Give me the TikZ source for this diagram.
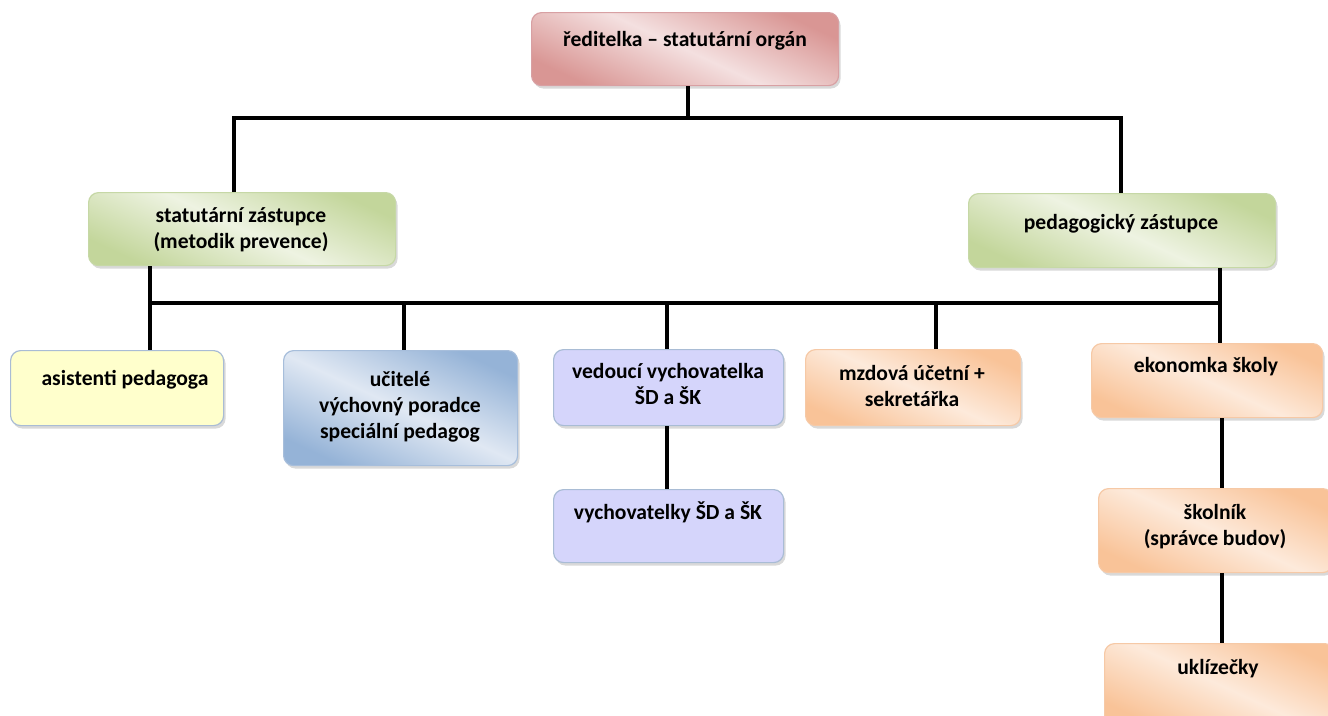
\documentclass[tikz,border=0pt]{standalone}
\usepackage{fontspec}
\setmainfont{Carlito}
\usetikzlibrary{shadows}

\definecolor{reddark}{HTML}{D99694}
\definecolor{redlight}{HTML}{F4E0E0}
\definecolor{redline}{HTML}{D8A0A3}
\definecolor{greendark}{HTML}{C3D69B}
\definecolor{greenlight}{HTML}{EEF3E2}
\definecolor{greenline}{HTML}{C6D8A6}
\definecolor{bluedark}{HTML}{95B3D7}
\definecolor{bluelight}{HTML}{E0E8F3}
\definecolor{blueline}{HTML}{A7BEDB}
\definecolor{orangedark}{HTML}{F9C398}
\definecolor{orangelight}{HTML}{FDEADB}
\definecolor{orangeline}{HTML}{F6C9A6}
\definecolor{yellowfill}{HTML}{FFFFCC}
\definecolor{lavfill}{HTML}{D5D5FB}
\definecolor{greyline}{HTML}{A9BCD5}

\tikzset{
  box/.style={rounded corners=10pt, line width=1.2pt, anchor=north west, inner sep=0pt,
    drop shadow={shadow xshift=2pt, shadow yshift=-3pt, opacity=0.3}},
  redbox/.style={box, draw=redline, top color=reddark, bottom color=reddark, middle color=redlight, shading angle=-25},
  greenbox/.style={box, draw=greenline, top color=greendark, bottom color=greendark, middle color=greenlight, shading angle=-25},
  bluebox/.style={box, draw=blueline, top color=bluedark, bottom color=bluedark, middle color=bluelight, shading angle=-25},
  orangebox/.style={box, draw=orangeline, top color=orangedark, bottom color=orangedark, middle color=orangelight, shading angle=-25},
  yellowbox/.style={box, draw=greyline, fill=yellowfill},
  lavbox/.style={box, draw=greyline, fill=lavfill},
  txt/.style={font=\bfseries\fontsize{21.6}{26}\selectfont, align=center, inner sep=0pt},
  conn/.style={line width=4pt}
}

\begin{document}
\begin{tikzpicture}[x=1pt,y=-1pt]
  \useasboundingbox (0,0) rectangle (1328,715);

  % boxes
  \node[redbox, minimum width=307pt, minimum height=73pt] (red) at (531,12) {};
  \node[greenbox, minimum width=307pt, minimum height=73pt] (stat) at (88,192) {};
  \node[greenbox, minimum width=307pt, minimum height=74pt] (ped) at (968,193) {};
  \node[yellowbox, minimum width=213pt, minimum height=75pt] (asist) at (10,350) {};
  \node[bluebox, minimum width=234pt, minimum height=115pt] (ucit) at (283,350) {};
  \node[lavbox, minimum width=230pt, minimum height=76pt] (ved) at (553,349) {};
  \node[lavbox, minimum width=230pt, minimum height=73pt] (vych) at (553,489) {};
  \node[orangebox, minimum width=215pt, minimum height=76pt] (mzd) at (805,349) {};
  \node[orangebox, minimum width=231pt, minimum height=74pt] (ekon) at (1091,343) {};
  \node[orangebox, minimum width=234pt, minimum height=84pt] (skol) at (1098,488) {};
  \node[orangebox, minimum width=230pt, minimum height=82pt] (ukl) at (1104,643) {};

  % texts
  \node[txt] (red-t) at (685,41) {ředitelka – statutární orgán};
  \node[txt] (stat-t) at (241,230) {statutární zástupce\\(metodik prevence)};
  \node[txt] (ped-t) at (1121,224) {pedagogický zástupce};
  \node[txt] (asist-t) at (125,380) {asistenti pedagoga};
  \node[txt] (ucit-t) at (400,407) {učitelé\\výchovný poradce\\speciální pedagog};
  \node[txt] (ved-t) at (668,384) {vedoucí vychovatelka\\ŠD a ŠK};
  \node[txt] (vych-t) at (668,512) {vychovatelky ŠD a ŠK};
  \node[txt] (mzd-t) at (912,386) {mzdová účetní +\\sekretářka};
  \node[txt] (ekon-t) at (1206,367) {ekonomka školy};
  \node[txt] (skol-t) at (1215,527) {školník\\(správce budov)};
  \node[txt] (ukl-t) at (1218,669) {uklízečky};

  % connectors
  \coordinate (bus1) at (688,118);
  \coordinate (bus2l) at (150,303);
  \coordinate (bus2r) at (1220,303);
  \draw[conn] (bus1 |- red.south) -- (bus1);
  \draw[conn] ([xshift=-8pt]stat.north) |- (bus1) -| ([xshift=-1pt]ped.north);
  \draw[conn] (bus2l |- stat.south) -- (bus2l) -- (bus2r) -- (bus2r |- ped.south);
  \foreach \x/\n in {150/asist,404/ucit,667/ved,936/mzd,1220/ekon}
    \draw[conn] (\x,303) -- (\x,303 |- \n.north);
  \draw[conn] (ved.south -| 667,0) -- (vych.north -| 667,0);
  \draw[conn] (1222,0 |- ekon.south) -- (1222,0 |- skol.north);
  \draw[conn] (1222,0 |- skol.south) -- (1222,0 |- ukl.north);
\end{tikzpicture}
\end{document}
